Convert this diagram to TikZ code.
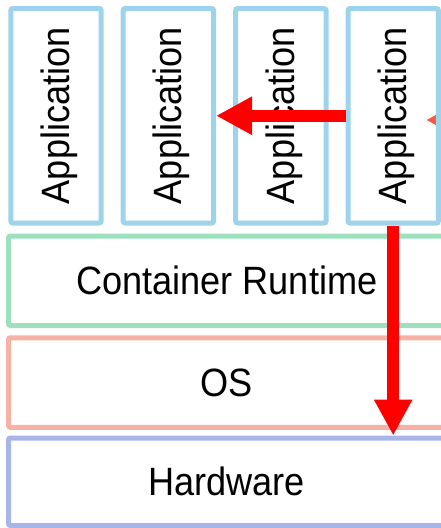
\documentclass[tikz,border=0pt]{standalone}
\usepackage{fontspec}
\setmainfont{Liberation Sans}
\usetikzlibrary{arrows.meta}
\definecolor{appblue}{RGB}{157,211,235}
\definecolor{rtgreen}{RGB}{157,224,190}
\definecolor{ossalmon}{RGB}{248,178,165}
\definecolor{hwblue}{RGB}{168,181,232}
\definecolor{hopred}{RGB}{255,0,0}
\definecolor{hoporange}{RGB}{245,90,60}
\begin{document}
\begin{tikzpicture}[x=1pt,y=-1pt]
    \tikzset{
        box/.style={line width=5pt,rounded corners=2pt,inner sep=0pt,font=\txtfont},
        app/.style={box,draw=appblue,minimum width=90.4pt,minimum height=214.5pt},
        layer/.style={box,draw=#1,minimum width=436.5pt,minimum height=89.5pt},
        hop/.style={draw=#1,line width=12pt,-{Triangle[length=36pt,width=36pt]}},}
    \def\txtfont{\fontsize{39.5}{44}\selectfont}
    \def\lbl#1{\scalebox{0.915}[1]{#1}}
    \clip (0,0) rectangle (441,528);
    % arrow coming in from the right, under the last box
    \coordinate (offright) at (480,120);
    \coordinate (app4in) at (426,120);
    \draw[hop=hoporange] (offright) -- (app4in);
    \foreach \i in {1,...,4}
        \node[app] (app\i) at ({56+112.4*(\i-1)},115.75) {\hspace*{6pt}\rotatebox{90}{\lbl{Application}}};
    \node[layer=rtgreen] (runtime) at (226.75,280.75) {\lbl{Container Runtime}};
    \node[layer=ossalmon] (os) at (226.75,382.5) {\lbl{OS}};
    \node[layer=hwblue,minimum height=87.5pt] (hw) at (226.75,481.75) {\lbl{Hardware}};
    \draw[hop=hopred] (app4.west) -- (app2.east);
    \draw[hop=hopred] (app4.south) -- (app4.south |- hw.north);
    % \draw[hop=hopred] (app4.south) -- (os.north);
\end{tikzpicture}
\end{document}
